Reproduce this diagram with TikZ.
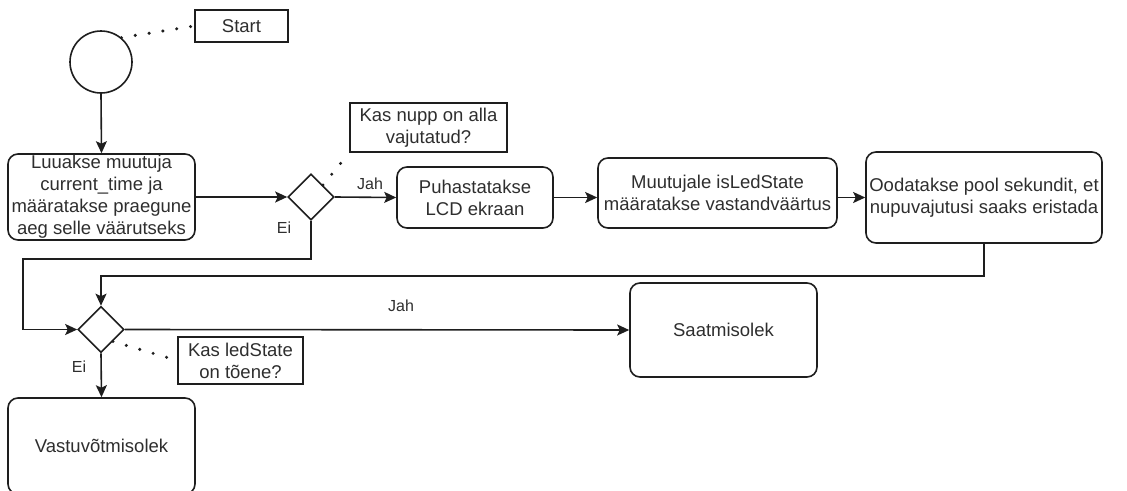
\documentclass[tikz,border=0pt]{standalone}
\usepackage{fontspec}
\setmainfont{Liberation Sans}
\usetikzlibrary{arrows.meta,shapes.geometric,calc}
\definecolor{ink}{HTML}{1E1E1E}
\definecolor{txt}{HTML}{2E2E2E}
\begin{document}
\begin{tikzpicture}[x=1pt,y=-1pt,
  every node/.style={font=\fontsize{18.5}{22}\selectfont, text=txt},
  base/.style={draw=ink, line width=1.6pt, inner sep=0pt, align=center},
  proc/.style={base, rectangle, rounded corners=10pt},
  note/.style={base, rectangle},
  decide/.style={base, diamond, aspect=1, minimum width=46pt, minimum height=46pt},
  startnode/.style={base, circle, minimum size=62pt},
  arr/.style={draw=ink, line width=1.6pt, -{Stealth[length=12pt,width=11pt,inset=2.5pt]}},
  dots/.style={draw=ink, line width=3.4pt, line cap=round, dash pattern=on 0pt off 14pt},
  lbl/.style={font=\fontsize{16}{19}\selectfont}
]
\useasboundingbox (0,0) rectangle (1127,490);
\begin{scope}
\clip (0,0) rectangle (1127,490);

% nodes
\node[startnode] (start) at (101,62) {};
\node[note, minimum width=93pt, minimum height=32pt] (startlbl) at (241.5,26) {Start};
\node[proc, minimum width=187pt, minimum height=86pt] (init) at (101.5,197)
  {Luuakse muutuja\\current\_time ja\\määratakse praegune\\aeg selle väärutseks};
\node[decide] (d1) at (311,197) {};
\node[note, minimum width=157pt, minimum height=49pt] (q1) at (428.5,127.5)
  {Kas nupp on alla\\vajutatud?};
\node[proc, minimum width=156pt, minimum height=61pt] (lcd) at (475,197.5)
  {Puhastatakse\\LCD ekraan};
\node[proc, minimum width=239pt, minimum height=70pt] (led) at (717.5,193)
  {Muutujale isLedState\\määratakse vastandväärtus};
\node[proc, minimum width=236pt, minimum height=91pt] (wait) at (984,197.5)
  {Oodatakse pool sekundit, et\\nupuvajutusi saaks eristada};
\node[decide] (d2) at (101,329.5) {};
\node[note, minimum width=125pt, minimum height=47pt] (q2) at (240.5,360.5)
  {Kas ledState\\on tõene?};
\node[proc, minimum width=187pt, minimum height=94pt] (send) at (723.5,330) {Saatmisolek};
\node[proc, minimum width=187pt, minimum height=96pt] (recv) at (101.5,446) {Vastuvõtmisolek};

\coordinate (loopleft) at (23,259);

% connectors
\draw[arr] (start.south) -- (init.north);
\draw[arr] (init.east) -- (d1.west);
\draw[arr] (d1.east) -- (lcd.west);
\draw[arr] (lcd.east) -- (lcd.east -| led.west);
\draw[arr] (lcd.east -| led.east) -- (lcd.east -| wait.west);
\draw[arr] (wait.south) -- ++(0,32) -| (d2.north);
\draw[arr] (d1.south) |- (loopleft) |- (d2.west);
\draw[arr] (d2.east) -- (send.west);
\draw[arr] (d2.south) -- (recv.north);

% annotation links
\draw[dots] (start.50) -- (startlbl.west);
\draw[dots] (d1.north east) -- (q1.south west);
\draw[dots] (d2.south east) -- (q2.west);

% edge labels
\node[lbl] (l1) at (370,184) {Jah};
\node[lbl] (l2) at (284,228) {Ei};
\node[lbl] (l3) at (401,306) {Jah};
\node[lbl] (l4) at (79,367) {Ei};
\end{scope}
\end{tikzpicture}
\end{document}
